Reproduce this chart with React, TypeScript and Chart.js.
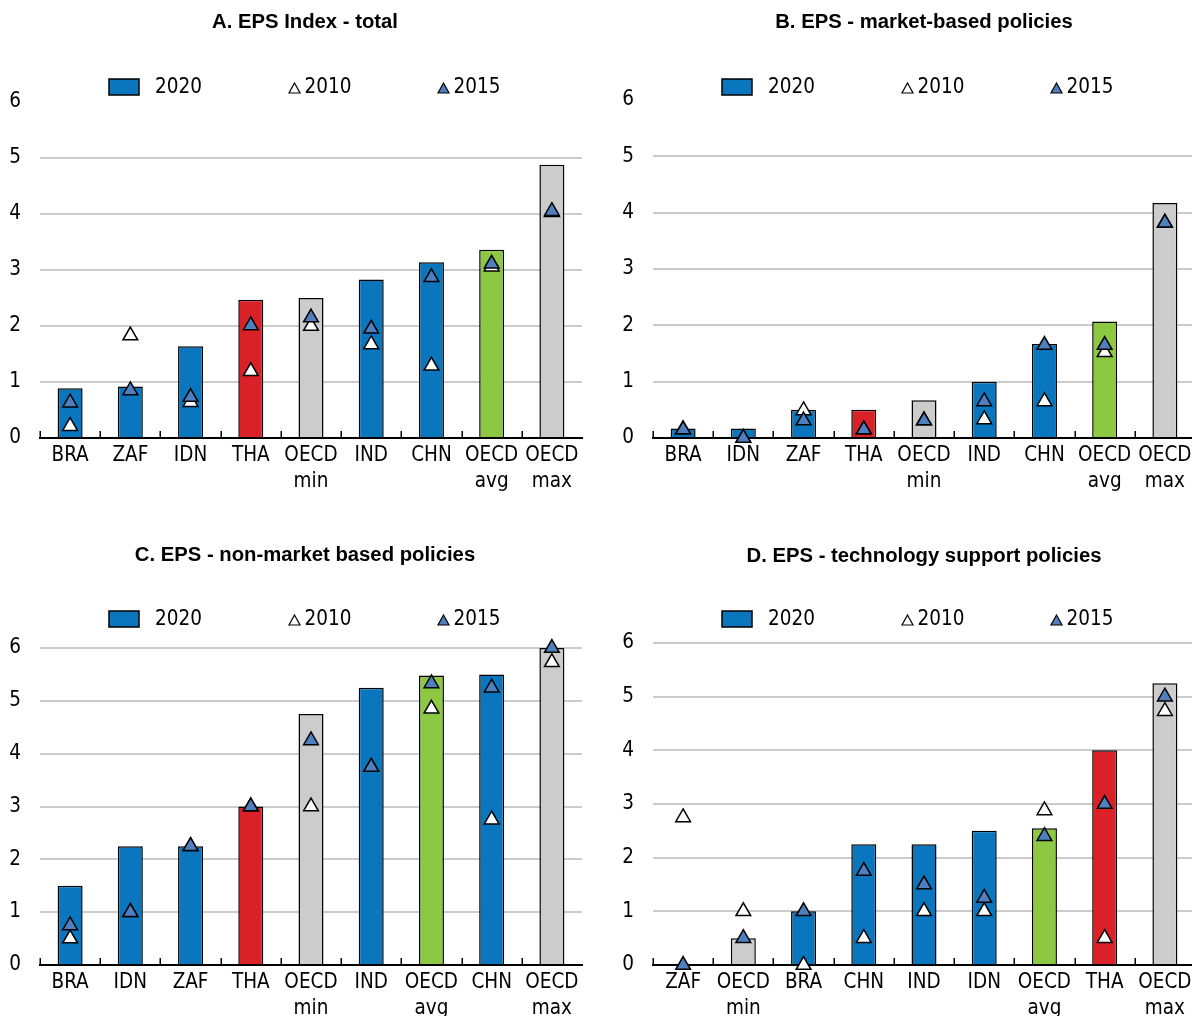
import React, { useEffect, useRef } from "react";
import { Chart, registerables } from "chart.js";

Chart.register(...registerables);

// ---------- Data ----------
const yearLabels = ["2020", "2010", "2015"];
const yTicks = [0, 1, 2, 3, 4, 5, 6];

const titleA = "A. EPS Index - total";
const catsA = ["BRA", "ZAF", "IDN", "THA", ["OECD", "min"], "IND", "CHN", ["OECD", "avg"], ["OECD", "max"]];
const a2020 = [0.89, 0.92, 1.64, 2.47, 2.5, 2.83, 3.14, 3.36, 4.88];
const a2010 = [0.21, 1.83, 0.64, 1.19, 2.0, 1.67, 1.29, 3.06, 4.03];
const a2015 = [0.63, 0.85, 0.73, 2.01, 2.15, 1.95, 2.87, 3.11, 4.05];

const titleB = "B. EPS - market-based policies";
const catsB = ["BRA", "IDN", "ZAF", "THA", ["OECD", "min"], "IND", "CHN", ["OECD", "avg"], ["OECD", "max"]];
const b2020 = [0.17, 0.17, 0.5, 0.5, 0.67, 1.0, 1.67, 2.07, 4.17];
const b2010 = [0.15, 0.0, 0.49, 0.15, 0.31, 0.33, 0.65, 1.52, 3.82];
const b2015 = [0.15, 0.0, 0.31, 0.15, 0.31, 0.65, 1.65, 1.65, 3.82];

const titleC = "C. EPS - non-market based policies";
const catsC = ["BRA", "IDN", "ZAF", "THA", ["OECD", "min"], "IND", ["OECD", "avg"], "CHN", ["OECD", "max"]];
const c2020 = [1.5, 2.25, 2.25, 3.0, 4.75, 5.25, 5.48, 5.5, 6.0];
const c2010 = [0.5, 1.0, 2.25, 3.0, 3.0, 3.75, 4.85, 2.75, 5.73];
const c2015 = [0.75, 1.0, 2.25, 3.0, 4.25, 3.75, 5.33, 5.25, 6.0];

const titleD = "D. EPS - technology support policies";
const catsD = ["ZAF", ["OECD", "min"], "BRA", "CHN", "IND", "IDN", ["OECD", "avg"], "THA", ["OECD", "max"]];
const d2020 = [0, 0.5, 1.0, 2.25, 2.25, 2.5, 2.55, 4.0, 5.25];
const d2010 = [2.75, 1.0, 0.0, 0.5, 1.0, 1.0, 2.88, 0.5, 4.73];
const d2015 = [0.0, 0.5, 1.0, 1.75, 1.5, 1.25, 2.4, 3.0, 5.0];

// ---------- Styles ----------
const FONT = '"Liberation Sans Narrow", "Arial Narrow", "DejaVu Sans Condensed", "Liberation Sans", sans-serif';
const TITLE_FONT = '"Liberation Sans", Arial, sans-serif';
const BLUE = "#0A76BD";
const RED = "#DA2128";
const GREEN = "#8CC841";
const GREY = "#CCCCCC";
const TRI_BLUE = "#4F7FBF";
const GRID = "#CBCBCB";

const barColor = (c: string | string[]) => {
  const s = Array.isArray(c) ? c.join(" ") : c;
  if (s === "THA") return RED;
  if (s === "OECD avg") return GREEN;
  if (s.startsWith("OECD")) return GREY;
  return BLUE;
};

const triPath = (ctx: CanvasRenderingContext2D, x: number, y: number, w: number, h: number) => {
  ctx.beginPath();
  ctx.moveTo(x, y - h / 2);
  ctx.lineTo(x + w / 2, y + h / 2);
  ctx.lineTo(x - w / 2, y + h / 2);
  ctx.closePath();
};

const legendPlugin = {
  id: "epsLegend",
  afterDraw(chart: any, _args: any, opts: any) {
    const ctx: CanvasRenderingContext2D = chart.ctx;
    const L = chart.chartArea.left;
    const y = opts.y;
    const ds = chart.data.datasets;
    ctx.save();
    ctx.lineWidth = 1.5;
    ctx.strokeStyle = "#000";
    ctx.fillStyle = BLUE;
    ctx.fillRect(L + 69, y - 8, 30, 16);
    ctx.strokeRect(L + 69, y - 8, 30, 16);
    ctx.font = `20.5px ${FONT}`;
    ctx.textBaseline = "middle";
    ctx.textAlign = "left";
    ctx.fillStyle = "#000";
    ctx.fillText(ds[0].label, L + 115, y + 1);
    ctx.lineWidth = 1.2;
    triPath(ctx, L + 254.5, y + 1, 11, 10);
    ctx.fillStyle = "#fff";
    ctx.fill();
    ctx.stroke();
    ctx.fillStyle = "#000";
    ctx.fillText(ds[1].label, L + 264.5, y + 1);
    triPath(ctx, L + 403.5, y + 1, 11, 10);
    ctx.fillStyle = TRI_BLUE;
    ctx.fill();
    ctx.stroke();
    ctx.fillStyle = "#000";
    ctx.fillText(ds[2].label, L + 413.5, y + 1);
    ctx.restore();
  },
};

const upTickPlugin = {
  id: "upTicks",
  afterDraw(chart: any) {
    const xs = chart.scales.x;
    const n = chart.data.labels.length;
    const step = xs.getPixelForValue(1) - xs.getPixelForValue(0);
    const b = chart.chartArea.bottom;
    const ctx: CanvasRenderingContext2D = chart.ctx;
    ctx.save();
    ctx.strokeStyle = "#000";
    ctx.lineWidth = 1.5;
    for (let i = 0; i < n; i++) {
      const x = Math.round(xs.getPixelForValue(i) - step / 2) + 0.25;
      ctx.beginPath();
      ctx.moveTo(x, b);
      ctx.lineTo(x, b - 7);
      ctx.stroke();
    }
    ctx.restore();
  },
};

type Panel = {
  title: string;
  cats: (string | string[])[];
  v2020: number[];
  v2010: number[];
  v2015: number[];
  left: number;
  top: number;
  width: number;
  height: number;
  axisW: number;
  rightW: number;
  titleY: number;
  chartTop: number;
  legendY: number;
  hideTop: boolean;
};

const ChartPanel: React.FC<{ p: Panel }> = ({ p }) => {
  const ref = useRef<HTMLCanvasElement | null>(null);
  useEffect(() => {
    if (!ref.current) return;
    const titleSize = 20.3;
    const lh = titleSize * 1.2;
    const pt = p.titleY - lh / 2;
    const pb = p.chartTop - p.titleY - lh / 2;
    const tickFont = { family: FONT, size: 20.5, lineHeight: 1.25 };
    const chart = new Chart(ref.current, {
      type: "bar",
      data: {
        labels: p.cats as any,
        datasets: [
          {
            type: "bar",
            label: yearLabels[0],
            data: p.v2020,
            backgroundColor: p.cats.map(barColor),
            borderColor: "#000",
            borderWidth: 1.5,
            barPercentage: 0.83,
            categoryPercentage: 0.5,
            order: 3,
          },
          {
            type: "line",
            label: yearLabels[1],
            data: p.v2010,
            showLine: false,
            pointStyle: "triangle",
            pointRadius: 8.5,
            pointHoverRadius: 8.5,
            pointBackgroundColor: "#fff",
            pointBorderColor: "#000",
            pointBorderWidth: 1.5,
            order: 2,
            clip: false,
          },
          {
            type: "line",
            label: yearLabels[2],
            data: p.v2015,
            showLine: false,
            pointStyle: "triangle",
            pointRadius: 8.5,
            pointHoverRadius: 8.5,
            pointBackgroundColor: TRI_BLUE,
            pointBorderColor: "#000",
            pointBorderWidth: 1.5,
            order: 1,
            clip: false,
          },
        ] as any,
      },
      options: {
        responsive: false,
        animation: false,
        devicePixelRatio: 1,
        events: [],
        layout: { padding: 0 },
        plugins: {
          legend: { display: false },
          tooltip: { enabled: false },
          title: {
            display: true,
            text: p.title,
            color: "#000",
            font: { family: TITLE_FONT, size: titleSize, weight: "bold", lineHeight: 1.2 },
            padding: { top: pt, bottom: pb },
          },
          epsLegend: { y: p.legendY },
        } as any,
        scales: {
          x: {
            offset: true,
            grid: { display: true, drawOnChartArea: false, drawTicks: false },
            border: { display: true, color: "#000", width: 2 },
            ticks: { color: "#000", font: tickFont, padding: 5, maxRotation: 0, autoSkip: false },
            afterFit: (s: any) => {
              s.height = 60;
            },
          },
          y: {
            min: yTicks[0],
            max: yTicks[yTicks.length - 1],
            ticks: { stepSize: 1, color: "#000", font: tickFont, padding: 19 },
            grid: {
              drawTicks: false,
              lineWidth: 2,
              color: (c: any) => (p.hideTop && c.tick && c.tick.value === 6 ? "rgba(0,0,0,0)" : GRID),
            },
            border: { display: false },
            afterFit: (s: any) => {
              s.width = p.axisW;
            },
          },
          yRight: {
            position: "right",
            min: 0,
            max: 6,
            grid: { display: false, drawOnChartArea: false, drawTicks: false },
            ticks: { display: false },
            border: { display: false },
            afterFit: (s: any) => {
              s.width = p.rightW;
            },
          },
        } as any,
      },
      plugins: [legendPlugin, upTickPlugin],
    });
    return () => chart.destroy();
  }, [p]);
  return (
    <div style={{ position: "absolute", left: p.left, top: p.top, width: p.width, height: p.height }}>
      <canvas ref={ref} width={p.width} height={p.height} style={{ width: p.width, height: p.height, display: "block" }} />
    </div>
  );
};

const panels: Panel[] = [
  { title: titleA, cats: catsA, v2020: a2020, v2010: a2010, v2015: a2015, left: 0, top: 0, width: 610, height: 498, axisW: 40, rightW: 28, titleY: 22, chartTop: 102, legendY: 87, hideTop: true },
  { title: titleB, cats: catsB, v2020: b2020, v2010: b2010, v2015: b2015, left: 600, top: 0, width: 648, height: 498, axisW: 53, rightW: 53, titleY: 22, chartTop: 100, legendY: 87, hideTop: true },
  { title: titleC, cats: catsC, v2020: c2020, v2010: c2010, v2015: c2015, left: 0, top: 530, width: 610, height: 495, axisW: 40, rightW: 28, titleY: 25, chartTop: 118, legendY: 89, hideTop: false },
  { title: titleD, cats: catsD, v2020: d2020, v2010: d2010, v2015: d2015, left: 600, top: 530, width: 648, height: 495, axisW: 53, rightW: 53, titleY: 26, chartTop: 113, legendY: 89, hideTop: false },
];

export default function App() {
  return (
    <div style={{ position: "absolute", left: 0, top: 0, width: 1192, height: 1016, overflow: "hidden", background: "#fff" }}>
      {panels.map((p, i) => (
        <ChartPanel key={i} p={p} />
      ))}
    </div>
  );
}
